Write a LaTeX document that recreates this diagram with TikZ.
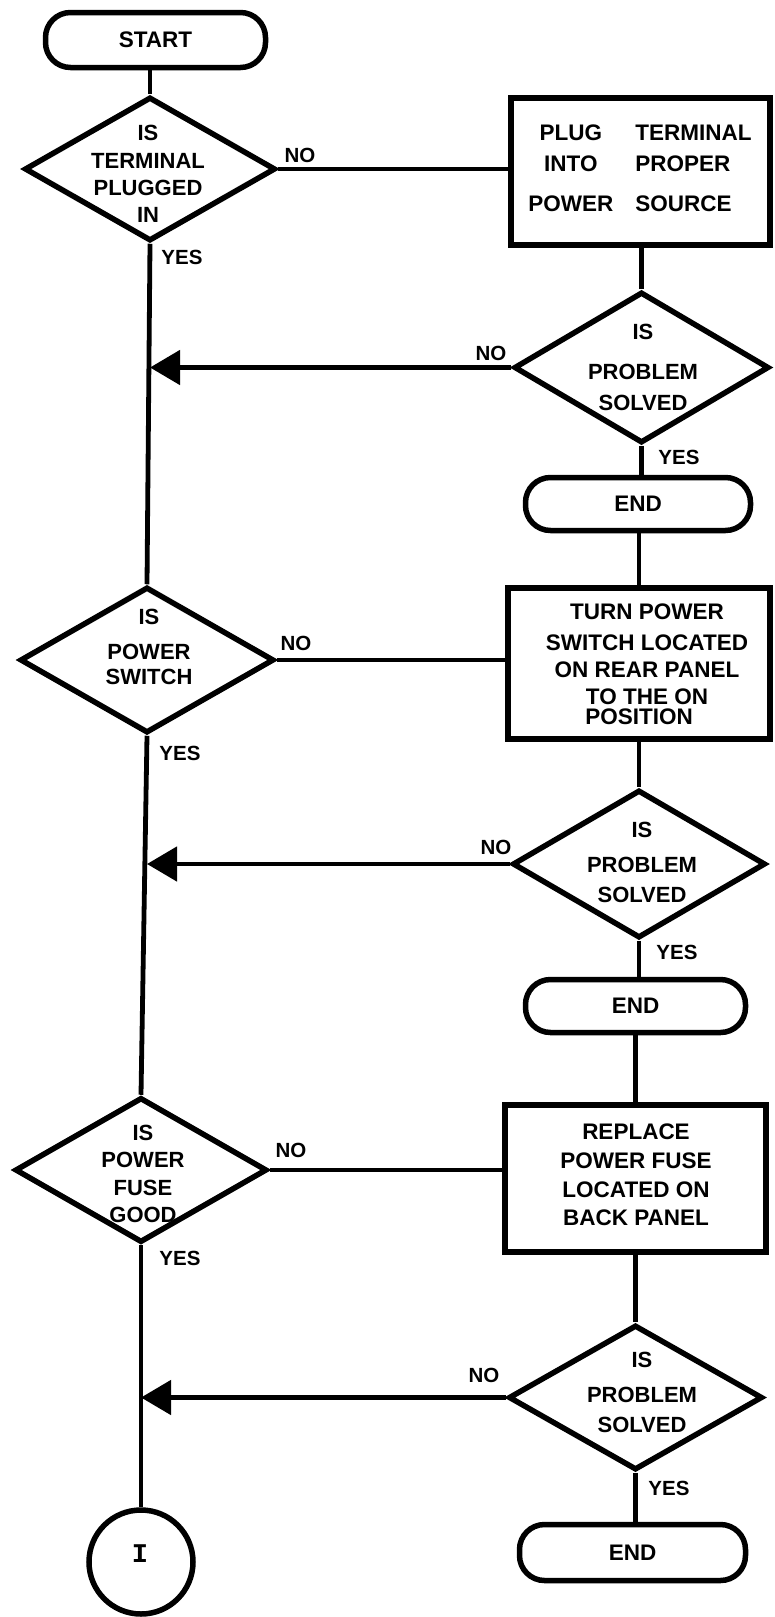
\documentclass[tikz,border=0pt]{standalone}
\usepackage{fontspec}
\setmainfont{Liberation Sans}
\newfontfamily\monofam{Liberation Mono}
\usetikzlibrary{shapes.geometric,arrows.meta}
\begin{document}
\begin{tikzpicture}[x=1pt,y=-1pt,
  decis/.style={diamond, draw, line width=5.5pt, inner sep=0pt},
  procbox/.style={rectangle, draw, line width=6pt, inner sep=0pt},
  termin/.style={rectangle, draw, rounded corners=25pt, line width=5.5pt, inner sep=0pt,
    font=\fontsize{22.5}{26}\selectfont\bfseries},
  connc/.style={circle, draw, line width=5.5pt, inner sep=0pt},
  flow/.style={line width=4.8pt},
  back/.style={flow, -{Triangle[length=30pt,width=34pt]}},
  lbl/.style={inner sep=0pt, font=\fontsize{20.5}{24}\selectfont\bfseries},
  dtext/.style={inner sep=0pt, align=center, font=\fontsize{22}{#1}\selectfont\bfseries},
  btext/.style={inner sep=0pt, align=center, font=\fontsize{22.5}{#1}\selectfont\bfseries}
]
\useasboundingbox (0,0) rectangle (774,1617);

% left column
\node[termin, minimum width=220pt, minimum height=55pt] (start) at (155.5,40) {START};
\node[decis, minimum width=251pt, minimum height=144pt] (d1) at (150,169) {};
\node[dtext=27.3] (d1t) at (148,174) {IS\\TERMINAL\\PLUGGED\\IN};
\node[decis, minimum width=254pt, minimum height=146pt] (d3) at (147,660) {};
\node[dtext=25] (d3t) at (149,647) {IS\\[10pt]POWER\\SWITCH};
\node[decis, minimum width=252pt, minimum height=145pt] (d5) at (141,1170) {};
\node[dtext=27.3] (d5t) at (143,1174) {IS\\POWER\\FUSE\\GOOD};
\node[connc, minimum size=104pt] (c1) at (141,1562) {};
\node[inner sep=0pt, font=\fontsize{27}{30}\selectfont\monofam\bfseries] (c1t) at (140,1554) {I};

% right column
\node[procbox, minimum width=259pt, minimum height=147pt] (b1) at (640.5,171.5) {};
\node[inner sep=0pt, font=\fontsize{22.5}{31}\selectfont\bfseries] (b1t) at (640,169.3)
  {\begin{tabular}{@{}c@{\hspace{22pt}}l@{}}PLUG & TERMINAL\\ INTO & PROPER\\[9pt] POWER & SOURCE\end{tabular}};
\node[decis, minimum width=255pt, minimum height=151pt] (d2) at (641.5,367.5) {};
\node[dtext=31] (d2t) at (643,367.5) {IS\\[9pt]PROBLEM\\SOLVED};
\node[termin, minimum width=225pt, minimum height=53pt] (e1) at (638,504) {END};

\node[procbox, minimum width=262pt, minimum height=151pt] (b2) at (639,663.5) {};
\node[btext=27] (b2t) at (647,664.5) {TURN POWER\\[4pt]SWITCH LOCATED\\ON REAR PANEL\\TO THE ON\hspace*{16pt}\\[-7pt]POSITION\hspace*{16pt}};
\node[decis, minimum width=253pt, minimum height=148pt] (d4) at (639,864) {};
\node[dtext=30] (d4t) at (642,862.5) {IS\\[5pt]PROBLEM\\SOLVED};
\node[termin, minimum width=220pt, minimum height=53pt] (e2) at (635.5,1006) {END};

\node[procbox, minimum width=261pt, minimum height=147pt] (b3) at (635.5,1178.5) {};
\node[btext=28.7] (b3t) at (636,1175) {REPLACE\\POWER FUSE\\LOCATED ON\\BACK PANEL};
\node[decis, minimum width=254pt, minimum height=145pt] (d6) at (635.5,1397.5) {};
\node[dtext=30] (d6t) at (642,1392.5) {IS\\[5pt]PROBLEM\\SOLVED};
\node[termin, minimum width=226pt, minimum height=56pt] (e3) at (632.5,1552.5) {END};

% labels
\node[lbl] (n1) at (300,155) {NO};
\node[lbl] (y1) at (182,257) {YES};
\node[lbl] (n2) at (491,353) {NO};
\node[lbl] (y2) at (679,457) {YES};
\node[lbl] (n3) at (296,643) {NO};
\node[lbl] (y3) at (180,753) {YES};
\node[lbl] (n4) at (496,847) {NO};
\node[lbl] (y4) at (677,952) {YES};
\node[lbl] (n5) at (291,1150) {NO};
\node[lbl] (y5) at (180,1258) {YES};
\node[lbl] (n6) at (484,1375) {NO};
\node[lbl] (y6) at (669,1488) {YES};

% connectors, left column
\draw[flow] (d1.north |- start.south) -- (d1.north);
\draw[flow] (d1.south) -- (d3.north);
\draw[flow] (d3.south) -- (d5.north);
\draw[flow] (d5.south) -- (c1.north);
% connectors, NO branches
\draw[flow] (d1.east) -- (d1.east -| b1.west);
\draw[flow] (d3.east) -- (d3.east -| b2.west);
\draw[flow] (d5.east) -- (d5.east -| b3.west);
% connectors, right column
\draw[flow] (d2.north |- b1.south) -- (d2.north);
\draw[flow] (d2.south) -- (d2.south |- e1.north);
\draw[flow] (b2.north |- e1.south) -- (b2.north);
\draw[flow] (d4.north |- b2.south) -- (d4.north);
\draw[flow] (d4.south) -- (d4.south |- e2.north);
\draw[flow] (e2.south) -- (e2.south |- b3.north);
\draw[flow] (d6.north |- b3.south) -- (d6.north);
\draw[flow] (d6.south) -- (d6.south |- e3.north);
% return arrows
\draw[back] (d2.west) -- (d2.west -| d1.south);
\draw[back] (d4.west) -- (d4.west -| d3.south);
\draw[back] (d6.west) -- (d6.west -| d5.south);
\end{tikzpicture}
\end{document}
